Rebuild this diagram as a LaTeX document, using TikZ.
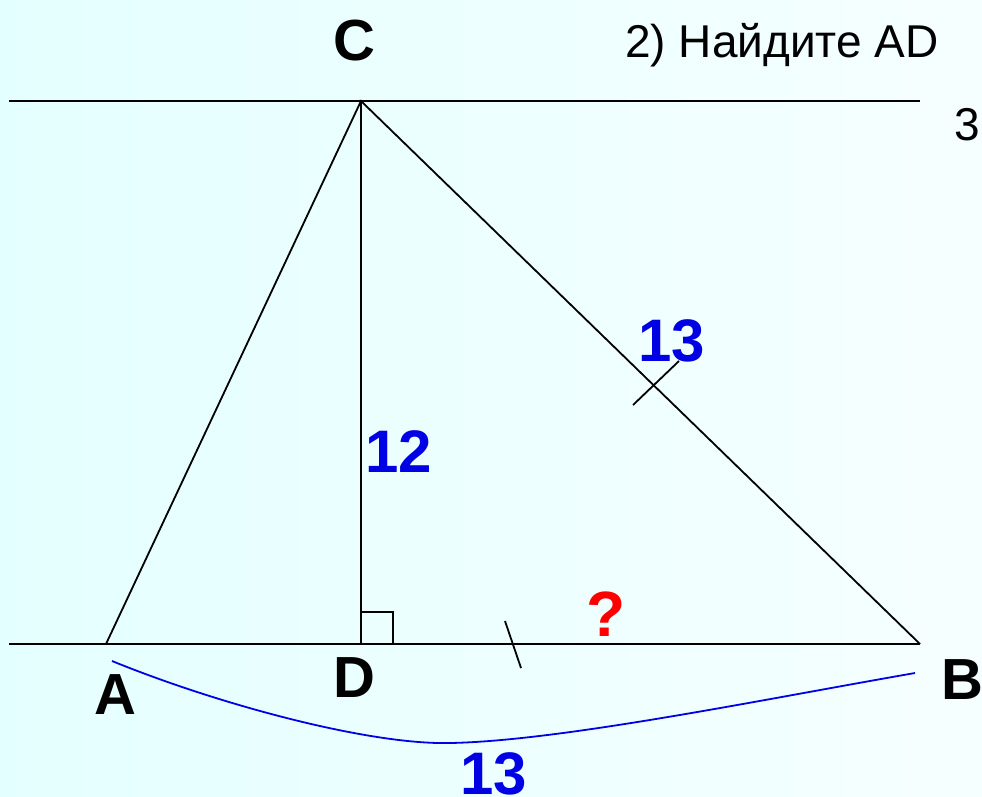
\documentclass[tikz,border=0pt]{standalone}
\usepackage{fontspec}
\setmainfont{Liberation Sans}
\begin{document}
\begin{tikzpicture}[x=1pt,y=-1pt,
  ln/.style={line width=1.8pt,black},
  lbl/.style={font=\fontsize{58}{58}\selectfont\bfseries,inner sep=0pt},
  num/.style={font=\fontsize{60}{60}\selectfont\bfseries,text=blue!90!black,inner sep=0pt},
  txt/.style={font=\fontsize{46}{46}\selectfont,inner sep=0pt}]
\definecolor{bgA}{HTML}{E4FFFF}
\definecolor{bgB}{HTML}{F6FFFF}
\shade[shading=axis,shading angle=45,left color=bgA,right color=bgB] (0,0) rectangle (982,796);
\useasboundingbox (0,0) rectangle (982,796);
\coordinate (C) at (361,101);
\coordinate (A) at (106,644);
\coordinate (D) at (361,644);
\coordinate (B) at (920,644);
\coordinate (L1) at (9,101);
\coordinate (R1) at (920,101);
\coordinate (L2) at (9,644);
\coordinate (R2) at (920,644);
\draw[ln] (L1) -- (R1);
\draw[ln] (L2) -- (R2);
\draw[ln] (A) -- (C) -- (B);
\draw[ln] (C) -- (D);
\coordinate (sq1) at (361,612);
\coordinate (sq2) at (393,612);
\coordinate (sq3) at (393,644);
\draw[ln] (sq1) -- (sq2) -- (sq3);
\coordinate (t1) at (505,621);
\coordinate (t2) at (521,668);
\draw[ln] (t1) -- (t2);
\coordinate (u1) at (633,405);
\coordinate (u2) at (679,361);
\draw[ln] (u1) -- (u2);
\coordinate (c1) at (112,661);
\coordinate (cm) at (450,743);
\coordinate (c2) at (915,673);
\draw[line width=1.8pt,blue!90!black] (c1) .. controls (220,705) and (370,745) .. (cm) .. controls (560,741) and (760,700) .. (c2);
\node[lbl] (nC) at (354,41) {C};
\node[lbl] (nA) at (115,695) {A};
\node[lbl] (nD) at (354,678) {D};
\node[lbl] (nB) at (962,680) {B};
\node[num] (n12) at (399,452) {12};
\node[num] (n13a) at (672,341) {13};
\node[num] (n13b) at (494,774) {13};
\node[lbl,font=\fontsize{64}{64}\selectfont\bfseries,text=red] (nq) at (606,614) {?};
\node[txt] (title) at (782,45) {2) Найдите AD};
\node[txt] (three) at (967,125) {3};
\end{tikzpicture}
\end{document}
